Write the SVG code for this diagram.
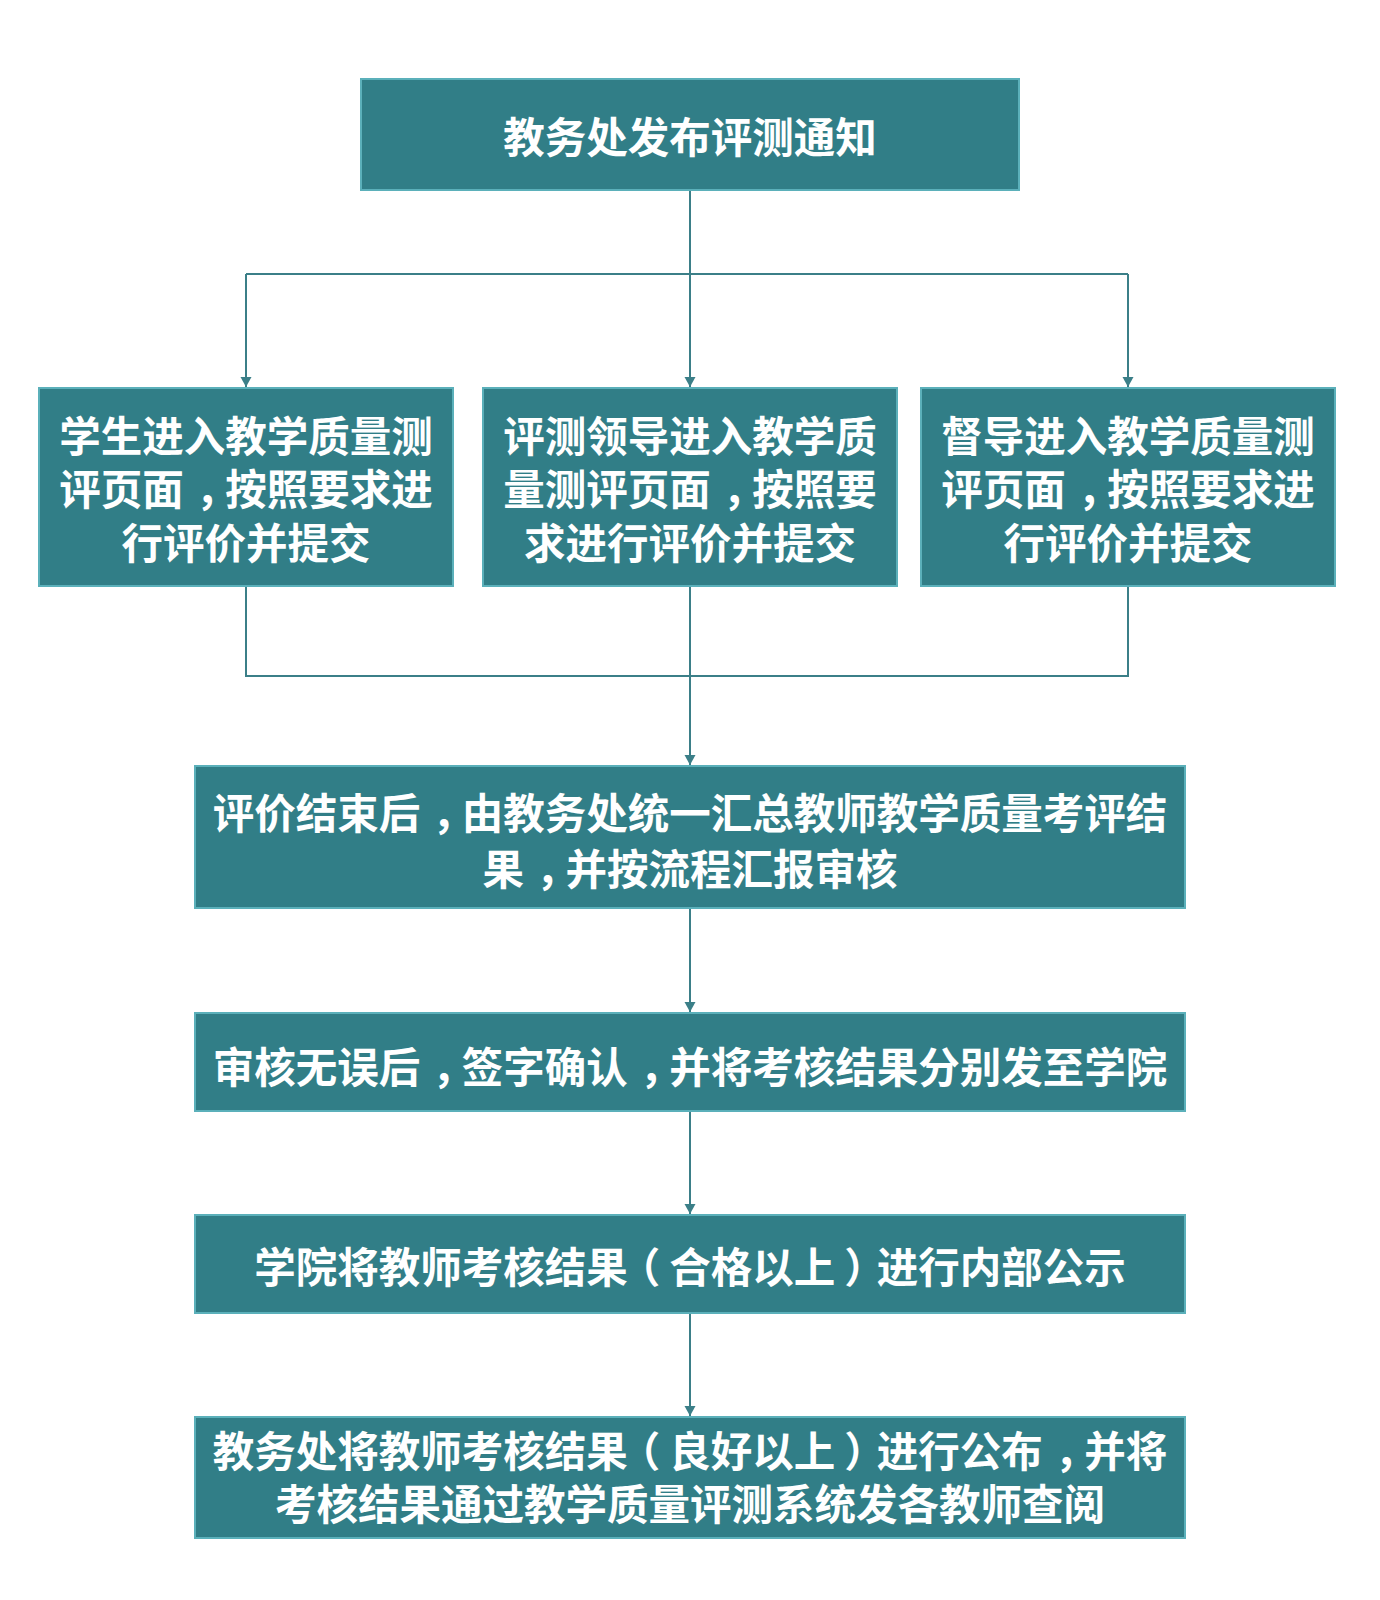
<svg xmlns="http://www.w3.org/2000/svg" width="1380" height="1600" viewBox="0 0 1380 1600">
<style>
.box{fill:#317E87;stroke:#5BB0BA;stroke-width:2}
.t{font-family:"Noto Sans CJK SC","Noto Sans",sans-serif;font-weight:700;font-size:41.5px;fill:#FFFFFF;text-anchor:middle}
.c{fill:none;stroke:#3B7F88;stroke-width:2}
</style>
<defs>
<marker id="arr" markerUnits="userSpaceOnUse" markerWidth="12" markerHeight="12" refX="10" refY="6" orient="auto">
<path d="M0,0.5 L10,6 L0,11.5 Z" fill="#3B7F88"/>
</marker>
</defs>
<rect width="1380" height="1600" fill="#FFFFFF"/>
<g id="connectors">
<path class="c" d="M690,190 V274"/>
<path class="c" d="M246,274 H1128"/>
<path class="c" d="M246,274 V387" marker-end="url(#arr)"/>
<path class="c" d="M690,274 V387" marker-end="url(#arr)"/>
<path class="c" d="M1128,274 V387" marker-end="url(#arr)"/>
<path class="c" d="M246,586 V676 H1128 V586"/>
<path class="c" d="M690,586 V765" marker-end="url(#arr)"/>
<path class="c" d="M690,908 V1012" marker-end="url(#arr)"/>
<path class="c" d="M690,1111 V1214" marker-end="url(#arr)"/>
<path class="c" d="M690,1313 V1416" marker-end="url(#arr)"/>
</g>
<g id="n1">
<rect class="box" x="361" y="79" width="658" height="111"/>
<text class="t" x="690" y="153">教务处发布评测通知</text>
</g>
<g id="n2">
<rect class="box" x="39" y="388" width="414" height="198"/>
<text class="t"><tspan x="246" y="452">学生进入教学质量测</tspan><tspan x="246" y="505">评页面<tspan dx="12">，</tspan><tspan dx="-12">按照要求进</tspan></tspan><tspan x="246" y="559">行评价并提交</tspan></text>
</g>
<g id="n3">
<rect class="box" x="483" y="388" width="414" height="198"/>
<text class="t"><tspan x="690" y="452">评测领导进入教学质</tspan><tspan x="690" y="505">量测评页面<tspan dx="12">，</tspan><tspan dx="-12">按照要</tspan></tspan><tspan x="690" y="559">求进行评价并提交</tspan></text>
</g>
<g id="n4">
<rect class="box" x="921" y="388" width="414" height="198"/>
<text class="t"><tspan x="1128" y="452">督导进入教学质量测</tspan><tspan x="1128" y="505">评页面<tspan dx="12">，</tspan><tspan dx="-12">按照要求进</tspan></tspan><tspan x="1128" y="559">行评价并提交</tspan></text>
</g>
<g id="n5">
<rect class="box" x="195" y="766" width="990" height="142"/>
<text class="t"><tspan x="690" y="829">评价结束后<tspan dx="12">，</tspan><tspan dx="-12">由教务处统一汇总教师教学质量考评结</tspan></tspan><tspan x="690" y="885">果<tspan dx="12">，</tspan><tspan dx="-12">并按流程汇报审核</tspan></tspan></text>
</g>
<g id="n6">
<rect class="box" x="195" y="1013" width="990" height="98"/>
<text class="t" x="690" y="1083">审核无误后<tspan dx="12">，</tspan><tspan dx="-12">签字确认</tspan><tspan dx="12">，</tspan><tspan dx="-12">并将考核结果分别发至学院</tspan></text>
</g>
<g id="n7">
<rect class="box" x="195" y="1215" width="990" height="98"/>
<text class="t" x="690" y="1283">学院将教师考核结果<tspan dx="-9">（</tspan><tspan dx="9">合格以上</tspan><tspan dx="9">）</tspan><tspan dx="-9">进行内部公示</tspan></text>
</g>
<g id="n8">
<rect class="box" x="195" y="1417" width="990" height="121"/>
<text class="t"><tspan x="690" y="1467">教务处将教师考核结果<tspan dx="-9">（</tspan><tspan dx="9">良好以上</tspan><tspan dx="9">）</tspan><tspan dx="-9">进行公布</tspan><tspan dx="12">，</tspan><tspan dx="-12">并将</tspan></tspan><tspan x="690" y="1520">考核结果通过教学质量评测系统发各教师查阅</tspan></text>
</g>
</svg>
